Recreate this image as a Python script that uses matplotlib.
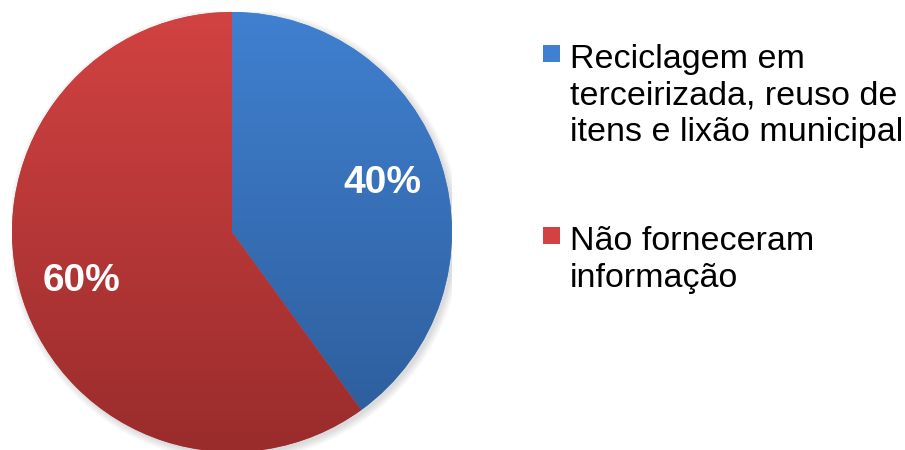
import numpy as np
import matplotlib
matplotlib.use('Agg')
import matplotlib.pyplot as plt
from matplotlib.patches import Circle, Rectangle
from matplotlib.colors import LinearSegmentedColormap

plt.rcParams['font.family'] = ['Liberation Sans', 'DejaVu Sans']

labels = ['Reciclagem em\nterceirizada, reuso de\nitens e lixão municipal',
          'Não forneceram\ninformação']
shares = [40, 60]
tops = ['#4080d0', '#d24242']
bottoms = ['#2c5c99', '#9a2c2c']

fig = plt.figure(figsize=(9.05, 4.5), dpi=100)
ax = fig.add_axes([12 / 905, -2 / 450, 440 / 905, 440 / 450])

# soft shadow under the pie
for r in np.linspace(1.03, 1.0, 6):
    ax.add_patch(Circle((0.012, -0.012), r, color='k', alpha=0.025, lw=0, zorder=0))

wedges, texts, autotexts = ax.pie(
    shares, colors=tops, startangle=90, counterclock=False,
    autopct='%1.0f%%', pctdistance=0.72,
    textprops=dict(color='white', fontsize=28, fontweight='bold'))

# vertical gradient in each slice
grad = np.linspace(0, 1, 256).reshape(-1, 1)
for w, c0, c1 in zip(wedges, tops, bottoms):
    cmap = LinearSegmentedColormap.from_list('g', [c0, c1])
    im = ax.imshow(grad, cmap=cmap, extent=(-1, 1, -1, 1), origin='upper',
                   aspect='auto', zorder=1)
    im.set_clip_path(w)
    w.set_zorder(1)
for t in autotexts:
    t.set_zorder(3)

ax.set_xlim(-1, 1)
ax.set_ylim(-1, 1)
ax.set_aspect('equal')
ax.axis('off')

# legend drawn by hand: square next to the first line of each label
rows_y = [45, 227]
for lab, y, c0, c1 in zip(labels, rows_y, tops, bottoms):
    fig.add_artist(Rectangle((543 / 905, 1 - (y + 17) / 450), 17 / 905, 17 / 450,
                             transform=fig.transFigure, color=c0, lw=0))
    fig.text(570 / 905, 1 - (y - 1) / 450, lab, fontsize=24.5, va='top',
             ha='left', color='black', linespacing=1.23)

fig.savefig('out.png', dpi=100)
